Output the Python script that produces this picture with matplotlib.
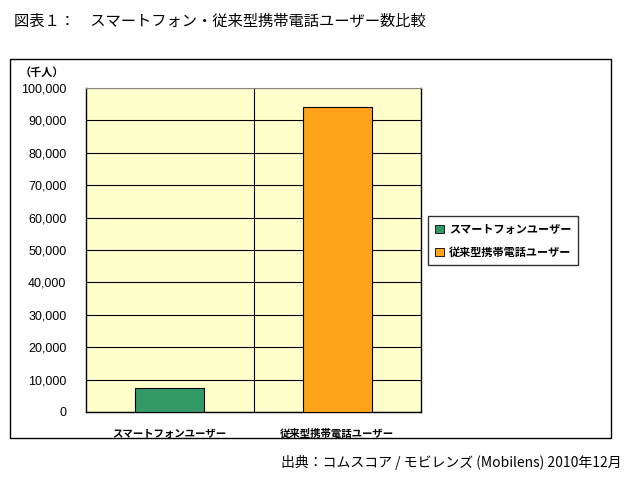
import matplotlib
matplotlib.use("Agg")
import matplotlib.pyplot as plt
from matplotlib.patches import Rectangle, Patch
from matplotlib.ticker import FuncFormatter

plt.rcParams['font.family'] = ['Noto Sans CJK JP', 'DejaVu Sans']

# data (thousand users)
categories = ['スマートフォンユーザー', '従来型携帯電話ユーザー']
users = [7300, 94100]
colors = ['#339966', '#FFA31A']
yticks = list(range(0, 100001, 10000))

fig = plt.figure(figsize=(6.31, 4.88), dpi=100)
W, H = 631, 488

# outer chart frame
fig.patches.append(Rectangle((10 / W, 1 - 438 / H), 601 / W, 379 / H,
                             transform=fig.transFigure, fill=False,
                             edgecolor='black', linewidth=1.0))

ax = fig.add_axes([86 / W, 1 - 412 / H, 335 / W, 324 / H])
ax.set_facecolor('#FFFFCC')
x = range(len(categories))
ax.bar(x, users, width=0.41, color=colors, edgecolor='black', linewidth=0.8, zorder=3)
ax.set_xlim(-0.5, 1.5)
ax.set_ylim(0, 100000)
ax.set_yticks(yticks)
ax.yaxis.set_major_formatter(FuncFormatter(lambda v, p: f'{int(v):,}'))
ax.grid(axis='y', color='black', linewidth=0.8, zorder=1)
ax.axvline(0.5, color='black', linewidth=0.8, zorder=1)
ax.set_xticks(list(x))
ax.set_xticklabels(categories, fontsize=7.5, fontweight='bold')
ax.tick_params(axis='x', length=0, pad=12)
ax.tick_params(axis='y', length=0, pad=14, labelsize=9)
for lab in ax.get_yticklabels():
    lab.set_family(['Liberation Sans', 'DejaVu Sans'])
for s in ['left', 'bottom', 'right']:
    ax.spines[s].set_color('black')
    ax.spines[s].set_linewidth(1.0)
ax.spines['top'].set_color('#888888')

handles = [Patch(facecolor=c, edgecolor='black', linewidth=0.6) for c in colors]
leg = fig.legend(handles, categories, loc='upper left',
                 bbox_to_anchor=(428 / W, 1 - 216 / H), prop={'size': 8, 'weight': 'bold'},
                 frameon=True, fancybox=False, edgecolor='black', handlelength=0.8,
                 handleheight=0.8, handletextpad=0.5, borderpad=0.6, labelspacing=0.9,
                 borderaxespad=0)
leg.get_frame().set_linewidth(1.0)

fig.text(20 / W, 1 - 72 / H, '（千人）', fontsize=8, fontweight='bold', va='center', ha='left')
fig.text(14 / W, 1 - 21 / H, '図表１：　スマートフォン・従来型携帯電話ユーザー数比較',
         fontsize=11, va='center', ha='left')
fig.text(622 / W, 1 - 463 / H, '出典：コムスコア / モビレンズ (Mobilens) 2010年12月',
         fontsize=10, va='center', ha='right')

fig.savefig('out.png', dpi=100)
